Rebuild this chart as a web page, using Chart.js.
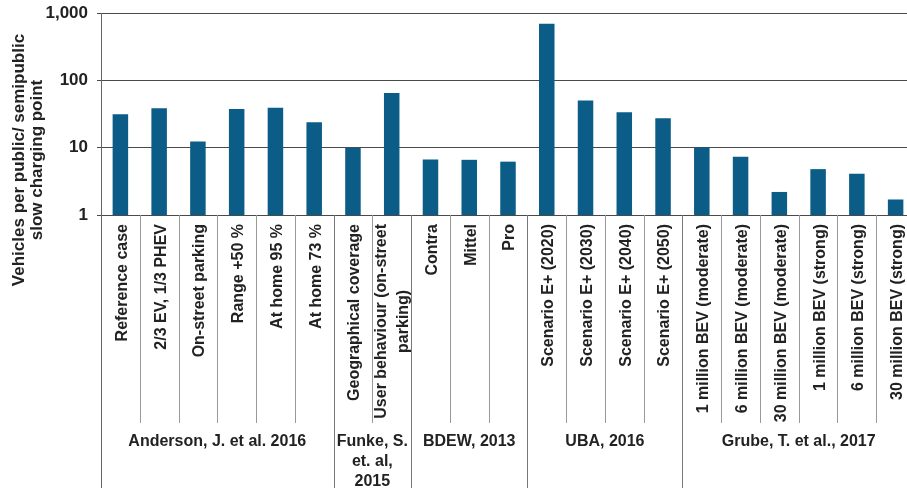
<!DOCTYPE html>
<html>
<head>
<meta charset="utf-8">
<script src="https://cdn.jsdelivr.net/npm/chart.js@4/dist/chart.umd.min.js"></script>
<style>
  html, body { margin: 0; padding: 0; background: #fff; overflow: hidden; }
  #wrap { width: 916px; height: 488px; }
</style>
</head>
<body>
<div id="wrap"><canvas id="chart" width="916" height="488"></canvas></div>
<script>
// --- Data ---
const scenarios = [
    'Reference case', '2/3 EV, 1/3 PHEV', 'On-street parking', 'Range +50 %', 'At home 95 %', 'At home 73 %',
    'Geographical coverage', ['User behaviour (on-street', 'parking)'],
    'Contra', 'Mittel', 'Pro',
    'Scenario E+ (2020)', 'Scenario E+ (2030)', 'Scenario E+ (2040)', 'Scenario E+ (2050)',
    '1 million BEV (moderate)', '6 million BEV (moderate)', '30 million BEV (moderate)',
    '1 million BEV (strong)', '6 million BEV (strong)', '30 million BEV (strong)'
];
const vehiclesPerPoint = [31.4, 38.5, 12.4, 37.6, 39.3, 23.8, 9.9, 65, 6.7, 6.6, 6.2, 690, 50, 33.6, 27.3, 10.1, 7.3, 2.2, 4.8, 4.1, 1.7];
const studies = [
    ['Anderson, J. et al. 2016'],
    ['Funke, S.', 'et. al,', '2015'],
    ['BDEW, 2013'],
    ['UBA, 2016'],
    ['Grube, T. et al., 2017']
];
const studySizes = [6, 2, 3, 4, 6];
const yTicks = [1, 10, 100, 1000];
const yTitle = ['Vehicles per public/ semipublic', 'slow charging point'];

const barColor = '#0b5c86';
const FONT = '"Liberation Sans", Arial, sans-serif';

// --- Category + group labels below the axis ---
const groupAxis = {
    id: 'groupAxis',
    afterDraw(chart) {
        const { ctx, chartArea } = chart;
        const x = chart.scales.x;
        const bottom = chart.height;
        const half = (x.getPixelForValue(1) - x.getPixelForValue(0)) / 2;
        ctx.save();

        // separators
        const groupEnds = [];
        let acc = 0;
        studySizes.forEach(n => { acc += n; groupEnds.push(acc); });
        ctx.lineWidth = 1;
        for (let i = 1; i < scenarios.length; i++) {
            const px = Math.round(x.getPixelForValue(i) - half) + 0.5;
            const isGroup = groupEnds.includes(i);
            ctx.strokeStyle = isGroup ? '#777' : '#999';
            ctx.beginPath();
            ctx.moveTo(px, chartArea.bottom);
            ctx.lineTo(px, isGroup ? bottom : 423);
            ctx.stroke();
        }
        // left axis running to the bottom
        ctx.strokeStyle = '#666';
        ctx.beginPath();
        ctx.moveTo(chartArea.left + 0.5, chartArea.top);
        ctx.lineTo(chartArea.left + 0.5, bottom);
        ctx.stroke();

        // rotated scenario labels
        ctx.fillStyle = '#222';
        ctx.font = 'bold 16px ' + FONT;
        ctx.textBaseline = 'middle';
        scenarios.forEach((lbl, i) => {
            const lines = Array.isArray(lbl) ? lbl : [lbl];
            const cx = x.getPixelForValue(i) + 2;
            ctx.save();
            ctx.translate(cx, 224);
            ctx.rotate(-Math.PI / 2);
            if (lines.length === 1) {
                ctx.textAlign = 'right';
                ctx.fillText(lines[0], 0, 0);
            } else {
                const w = ctx.measureText(lines[0]).width;
                ctx.textAlign = 'center';
                lines.forEach((l, k) => ctx.fillText(l, -w / 2, (k - (lines.length - 1) / 2) * 22 - 1));
            }
            ctx.restore();
        });

        // study group labels
        ctx.font = 'bold 16px ' + FONT;
        ctx.textAlign = 'center';
        let start = 0;
        studies.forEach((lines, g) => {
            const end = start + studySizes[g] - 1;
            const cx = (x.getPixelForValue(start) + x.getPixelForValue(end)) / 2;
            lines.forEach((l, k) => ctx.fillText(l, cx, 442 + k * 20));
            start = end + 1;
        });

        // y axis title
        ctx.font = 'bold 17px ' + FONT;
        yTitle.forEach((l, k) => {
            ctx.save();
            ctx.translate(19 + k * 18, 160);
            ctx.rotate(-Math.PI / 2);
            ctx.fillText(l, 0, 0);
            ctx.restore();
        });
        ctx.restore();
    }
};

new Chart(document.getElementById('chart'), {
    type: 'bar',
    data: {
        labels: scenarios,
        datasets: [{
            data: vehiclesPerPoint,
            backgroundColor: barColor,
            borderWidth: 0,
            barPercentage: 0.8,
            categoryPercentage: 0.5
        }]
    },
    options: {
        responsive: false,
        animation: false,
        layout: { padding: { top: 13, bottom: 273, left: 0, right: 1 } },
        plugins: { legend: { display: false }, tooltip: { enabled: false } },
        scales: {
            x: { display: false },
            y: {
                type: 'logarithmic',
                min: 1,
                max: 1000,
                afterBuildTicks: s => { s.ticks = yTicks.map(v => ({ value: v })); },
                afterFit: s => { s.width = 101; s.paddingTop = 0; s.paddingBottom = 0; },
                grid: { color: '#4a4a4a', lineWidth: 1, tickLength: 4 },
                border: { display: false },
                ticks: {
                    color: '#222',
                    padding: 9,
                    font: { family: FONT, size: 17, weight: 'bold' },
                    callback: v => v.toLocaleString('en-US')
                }
            }
        }
    },
    plugins: [groupAxis]
});
</script>
</body>
</html>
